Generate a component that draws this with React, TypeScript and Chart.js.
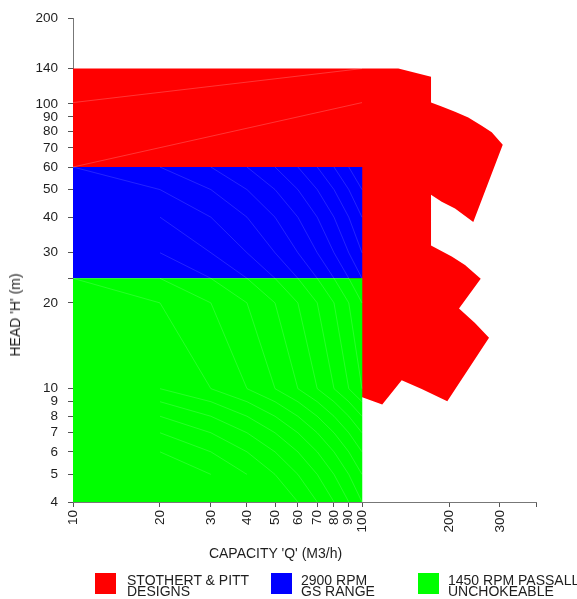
import React, { useEffect, useRef } from 'react';
import { Chart, registerables } from 'chart.js';

Chart.register(...registerables);

const FONT = 'Arial, "Liberation Sans", Helvetica, sans-serif';
const TEXT = '#1e1e1e';

// Axis ticks (capacity Q in M3/h, head H in m)
const Q_TICKS = [10, 20, 30, 40, 50, 60, 70, 80, 90, 100, 200, 300, 400];
const Q_TICK_LABELS = ['10', '20', '30', '40', '50', '60', '70', '80', '90', '100', '200', '300', ''];
const H_TICKS = [4, 5, 6, 7, 8, 9, 10, 20, 24.4, 30, 40, 50, 60, 70, 80, 90, 100, 133, 200];
const H_TICK_LABELS = ['4', '5', '6', '7', '8', '9', '10', '20', '', '30', '40', '50', '60', '70', '80', '90', '100', '140', '200'];

// Legend
const SERIES_NAMES = [
  ['STOTHERT & PITT', 'DESIGNS'],
  ['2900 RPM', 'GS RANGE'],
  ['1450 RPM PASSALL', 'UNCHOKEABLE'],
];
const SERIES_COLORS = ['#FF0000', '#0000FF', '#00FF00'];

// Regions [Q, H]
const RED_REGION: number[][] = [
  [10, 133], [133.6, 133], [173.3, 124.6], [173.3, 101.1],
  [188.7, 97.9], [209.8, 93.8], [233.2, 89.6], [259.6, 83.8], [281.1, 79.4], [306.9, 71.9],
  [242.7, 38.5], [209.8, 42.9], [188.7, 45.3], [173.3, 48.0],
  [173.3, 31.8], [204.4, 29.1], [227.2, 27.2], [257.5, 24.3],
  [216.6, 19.1], [246.0, 17.0], [275.1, 15.1],
  [197.3, 9.03], [160.9, 9.97], [137.2, 10.7], [117.5, 8.79], [100.2, 9.32],
  [90, 9.32], [90, 55], [10, 55],
];
const BLUE_REGION: number[][] = [[10, 24.4], [100.2, 24.4], [100.2, 60], [10, 60]];
const GREEN_REGION: number[][] = [[10, 4], [100.2, 4], [100.2, 24.4], [10, 24.4]];

// Faint performance-curve seams inside the regions
const RED_SEAMS: number[][][] = [
  [[10, 101], [100, 133]],
  [[10, 60], [100, 101]],
];
const BLUE_SEAMS: number[][][] = [
  [[10, 60], [20, 50], [30, 40], [40, 30], [50, 24.4]],
  [[20, 60], [30, 50], [40, 40], [50, 30], [60, 24.4]],
  [[30, 60], [40, 50], [50, 40], [60, 30], [70, 24.4]],
  [[40, 60], [50, 50], [60, 40], [70, 30], [80, 24.4]],
  [[50, 60], [60, 50], [70, 40], [80, 30], [90, 24.4]],
  [[60, 60], [70, 50], [80, 40], [90, 30], [100, 24.4]],
  [[70, 60], [80, 50], [90, 40], [100, 30]],
  [[80, 60], [90, 50], [100, 40]],
  [[90, 60], [100, 50]],
  [[20, 40], [30, 30], [40, 24.4]],
  [[20, 30], [30, 24.4]],
];
const GREEN_SEAMS: number[][][] = [
  [[10, 24.4], [20, 20], [30, 10], [40, 9], [50, 8], [60, 7], [70, 6], [80, 5], [90, 4]],
  [[20, 24.4], [30, 20], [40, 10], [50, 9], [60, 8], [70, 7], [80, 6], [90, 5], [100, 4]],
  [[30, 24.4], [40, 20], [50, 10], [60, 9], [70, 8], [80, 7], [90, 6], [100, 5]],
  [[40, 24.4], [50, 20], [60, 10], [70, 9], [80, 8], [90, 7], [100, 6]],
  [[50, 24.4], [60, 20], [70, 10], [80, 9], [90, 8], [100, 7]],
  [[60, 24.4], [70, 20], [80, 10], [90, 9], [100, 8]],
  [[70, 24.4], [80, 20], [90, 10], [100, 9]],
  [[80, 24.4], [90, 20], [100, 10]],
  [[90, 24.4], [100, 20]],
  [[20, 10], [30, 9], [40, 8], [50, 7], [60, 6], [70, 5], [80, 4]],
  [[20, 9], [30, 8], [40, 7], [50, 6], [60, 5], [70, 4]],
  [[20, 8], [30, 7], [40, 6], [50, 5], [60, 4]],
  [[20, 7], [30, 6], [40, 5]],
  [[20, 6], [30, 5]],
];

const toPoints = (arr: number[][]) => arr.map(([x, y]) => ({ x, y }));

function seamDataset(curve: number[][], alpha: number) {
  return {
    data: toPoints(curve),
    fill: false,
    borderColor: `rgba(255,255,255,${alpha})`,
    borderWidth: 0.7,
    pointRadius: 0,
    tension: 0,
  };
}

function areaDataset(poly: number[][], color: string) {
  return {
    data: toPoints(poly),
    fill: 'shape',
    backgroundColor: color,
    borderColor: 'rgba(0,0,0,0)',
    borderWidth: 1,
    pointRadius: 0,
    tension: 0,
  };
}

export default function App() {
  const canvasRef = useRef<HTMLCanvasElement>(null);

  useEffect(() => {
    if (!canvasRef.current) return;
    const datasets: any[] = [
      ...GREEN_SEAMS.map((c) => seamDataset(c, 0.22)),
      ...BLUE_SEAMS.map((c) => seamDataset(c, 0.2)),
      ...RED_SEAMS.map((c) => seamDataset(c, 0.3)),
      areaDataset(GREEN_REGION, SERIES_COLORS[2]),
      areaDataset(BLUE_REGION, SERIES_COLORS[1]),
      areaDataset(RED_REGION, SERIES_COLORS[0]),
    ];
    const tickFont = { family: FONT, size: 13.5 };
    const chart = new Chart(canvasRef.current, {
      type: 'line',
      data: { datasets },
      options: {
        responsive: false,
        animation: false,
        events: [],
        layout: { padding: { left: 0, top: 15, right: 41, bottom: 0 } },
        plugins: { legend: { display: false }, tooltip: { enabled: false } },
        scales: {
          x: {
            type: 'logarithmic',
            min: 10,
            max: 400,
            afterBuildTicks: (s: any) => { s.ticks = Q_TICKS.map((v) => ({ value: v })); },
            afterFit: (s: any) => { s.height = 97; },
            ticks: {
              autoSkip: false,
              minRotation: 90,
              maxRotation: 90,
              padding: 3,
              color: TEXT,
              font: tickFont,
              callback: (_v: any, i: number) => Q_TICK_LABELS[i],
            },
            grid: { drawOnChartArea: false, tickLength: 5, tickColor: '#555', color: '#555' },
            border: { color: '#777', width: 1 },
          },
          y: {
            type: 'logarithmic',
            min: 4,
            max: 200,
            afterBuildTicks: (s: any) => { s.ticks = H_TICKS.map((v) => ({ value: v })); },
            afterFit: (s: any) => { s.width = 73; },
            ticks: {
              autoSkip: false,
              padding: 10,
              color: TEXT,
              font: tickFont,
              callback: (_v: any, i: number) => H_TICK_LABELS[i],
            },
            grid: { drawOnChartArea: false, tickLength: 5, tickColor: '#555', color: '#555' },
            border: { color: '#777', width: 1 },
          },
        },
      } as any,
    });
    return () => chart.destroy();
  }, []);

  const legendBoxLeft = [95, 271, 418];
  const legendTextLeft = [127, 301, 448];

  return (
    <div
      style={{
        position: 'absolute', left: 0, top: 0, width: 577, height: 599,
        overflow: 'hidden', background: '#fff', fontFamily: FONT, color: TEXT,
      }}
    >
      <canvas ref={canvasRef} width={577} height={599} style={{ position: 'absolute', left: 0, top: 0 }} />
      <div
        style={{
          position: 'absolute', left: 15, top: 315, fontSize: 14, lineHeight: '16px',
          whiteSpace: 'nowrap', transform: 'translate(-50%, -50%) rotate(-90deg)',
        }}
      >
        HEAD 'H' (m)
      </div>
      <div
        style={{
          position: 'absolute', left: 275.5, top: 545, fontSize: 14, lineHeight: '16px',
          whiteSpace: 'nowrap', transform: 'translateX(-50%)',
        }}
      >
        CAPACITY 'Q' (M3/h)
      </div>
      {SERIES_NAMES.map((lines, i) => (
        <React.Fragment key={i}>
          <div
            style={{
              position: 'absolute', left: legendBoxLeft[i], top: 573, width: 21, height: 21,
              background: SERIES_COLORS[i],
            }}
          />
          <div
            style={{
              position: 'absolute', left: legendTextLeft[i], top: 574.6, fontSize: 14,
              lineHeight: '11px', whiteSpace: 'nowrap',
            }}
          >
            {lines.map((t, j) => (<div key={j}>{t}</div>))}
          </div>
        </React.Fragment>
      ))}
    </div>
  );
}
